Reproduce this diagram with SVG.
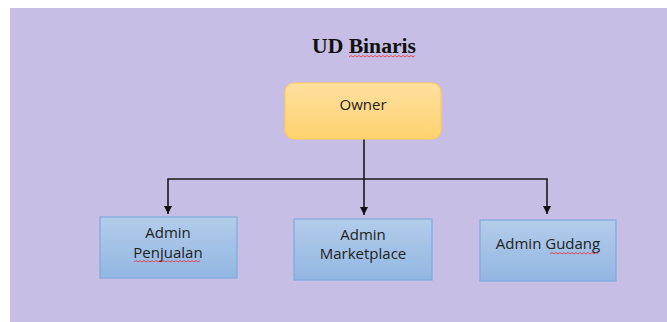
<svg xmlns="http://www.w3.org/2000/svg" width="667" height="322" viewBox="0 0 667 322">
<defs>
<linearGradient id="gOwner" x1="0" y1="0" x2="0" y2="1"><stop offset="0" stop-color="#FFE0A0"/><stop offset="1" stop-color="#FFD26F"/></linearGradient>
<linearGradient id="gBlue" x1="0" y1="0" x2="0" y2="1"><stop offset="0" stop-color="#B3CCEA"/><stop offset="1" stop-color="#92B6E2"/></linearGradient>
<marker id="arr" viewBox="0 0 10 10" refX="10" refY="5" markerWidth="8" markerHeight="8" markerUnits="userSpaceOnUse" orient="auto"><path d="M0,0 L10,5 L0,10 Z" fill="#111"/></marker>
<style>
.lbl{font-family:"Open Sans","Liberation Sans",sans-serif;font-size:15px;fill:#222;text-anchor:middle}
.box{fill:url(#gBlue);stroke:#7FA8DB;stroke-width:1.2}
.con{fill:none;stroke:#1a1a1a;stroke-width:1.6}
.sq{fill:none;stroke:#E03030;stroke-width:0.8}
</style>
</defs>
<rect x="0" y="0" width="667" height="322" fill="#ffffff"/>
<rect x="10" y="8" width="657" height="314" fill="#C6BEE5"/>
<g id="title">
<text x="364" y="53" font-family="Liberation Serif,serif" font-weight="bold" font-size="20" text-anchor="middle" fill="#111" textLength="104" lengthAdjust="spacingAndGlyphs">UD Binaris</text>
<path class="sq" d="M349,57 l2,-1.5 l2,1.5 l2,-1.5 l2,1.5 l2,-1.5 l2,1.5 l2,-1.5 l2,1.5 l2,-1.5 l2,1.5 l2,-1.5 l2,1.5 l2,-1.5 l2,1.5 l2,-1.5 l2,1.5 l2,-1.5 l2,1.5 l2,-1.5 l2,1.5 l2,-1.5 l2,1.5 l2,-1.5 l2,1.5 l2,-1.5 l2,1.5 l2,-1.5 l2,1.5 l2,-1.5 l2,1.5 l2,-1.5 l2,1.5 l2,-1.5"/>
</g>
<g id="connectors">
<path class="con" d="M364,139 V215" marker-end="url(#arr)"/>
<path class="con" d="M364,179 H168 V214" marker-end="url(#arr)"/>
<path class="con" d="M364,179 H547 V214" marker-end="url(#arr)"/>
</g>
<g id="owner">
<rect x="285" y="83" width="156" height="56" rx="9" fill="url(#gOwner)" stroke="#FFCB55" stroke-width="1.2"/>
<text class="lbl" x="363" y="110">Owner</text>
</g>
<g id="admin-penjualan">
<rect class="box" x="100" y="217" width="137" height="61"/>
<text class="lbl" x="168" y="238">Admin</text>
<text class="lbl" x="168" y="258">Penjualan</text>
<path class="sq" d="M134,262 l2,-1.5 l2,1.5 l2,-1.5 l2,1.5 l2,-1.5 l2,1.5 l2,-1.5 l2,1.5 l2,-1.5 l2,1.5 l2,-1.5 l2,1.5 l2,-1.5 l2,1.5 l2,-1.5 l2,1.5 l2,-1.5 l2,1.5 l2,-1.5 l2,1.5 l2,-1.5 l2,1.5 l2,-1.5 l2,1.5 l2,-1.5 l2,1.5 l2,-1.5 l2,1.5 l2,-1.5 l2,1.5 l2,-1.5 l2,1.5 l2,-1.5"/>
</g>
<g id="admin-marketplace">
<rect class="box" x="294" y="219" width="138" height="61"/>
<text class="lbl" x="363" y="240">Admin</text>
<text class="lbl" x="363" y="259">Marketplace</text>
</g>
<g id="admin-gudang">
<rect class="box" x="480" y="220" width="136" height="61"/>
<text class="lbl" x="548" y="249">Admin Gudang</text>
<path class="sq" d="M550,254 l2,-1.5 l2,1.5 l2,-1.5 l2,1.5 l2,-1.5 l2,1.5 l2,-1.5 l2,1.5 l2,-1.5 l2,1.5 l2,-1.5 l2,1.5 l2,-1.5 l2,1.5 l2,-1.5 l2,1.5 l2,-1.5 l2,1.5 l2,-1.5 l2,1.5 l2,-1.5 l2,1.5 l2,-1.5 l2,1.5"/>
</g>
</svg>
